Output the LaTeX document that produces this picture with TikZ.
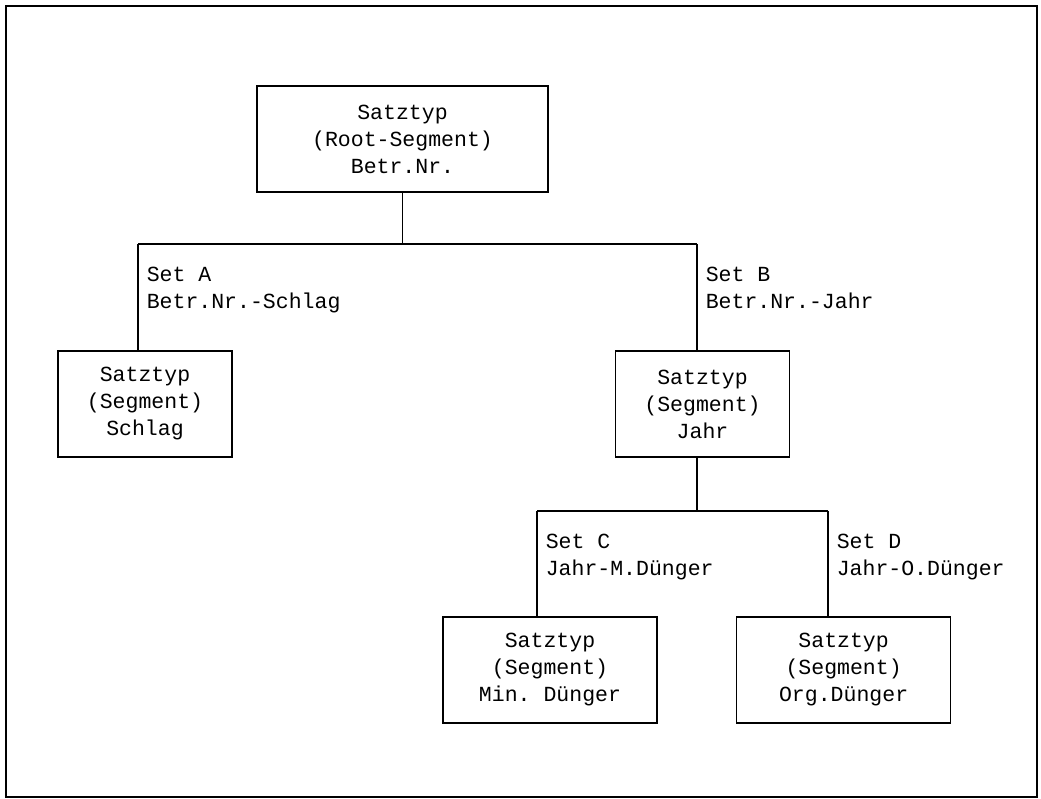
\documentclass[tikz,border=0pt]{standalone}
\usepackage{fontspec}
\setmonofont{Liberation Mono}
\usetikzlibrary{positioning}
\tikzset{
  satzbox/.style={rectangle,draw=black,line width=1.1pt,align=center,minimum height=2.65cm,inner sep=0pt},
  rootbox/.style={satzbox,minimum width=7.275cm},
  segbox/.style={satzbox,minimum width=4.35cm},
  widebox/.style={satzbox,minimum width=5.35cm},
  setlabel/.style={anchor=north west,align=left,inner sep=0pt,xshift=0.2cm,yshift=-0.55cm},
  edge/.style={line width=1.1pt}
}
\begin{document}
\begin{tikzpicture}[x=0.025cm,y=-0.025cm,font=\ttfamily\fontsize{15.3pt}{19.2pt}\selectfont]
  \useasboundingbox (0,0) rectangle (1041,799);
  \draw[line width=1.2pt] (6,6) rectangle (1037,797);

  \node[rootbox] (root) at (402.5,139) {Satztyp\\(Root-Segment)\\Betr.Nr.};
  \node[segbox] (schlag) at (145,404) {Satztyp\\(Segment)\\Schlag};
  \node[segbox] (jahr) at (702.5,404) {Satztyp\\(Segment)\\Jahr};
  \node[widebox] (mindung) at (550,670) {Satztyp\\(Segment)\\Min. Dünger};
  \node[widebox,right=1.95cm of mindung] (orgdung) {Satztyp\\(Segment)\\Org.Dünger};

  % Verzweigungspunkte
  \coordinate (setA) at (138,244);
  \coordinate (setB) at (697,244);
  \coordinate (setC) at (537,511);
  \coordinate (setD) at (828,511);

  \draw[edge] (root.south) -- (root.south |- setA);
  \draw[edge] (setA) -- (setB);
  \draw[edge] (setA) -- (setA |- schlag.north) node[setlabel,at start]{Set A\\Betr.Nr.-Schlag};
  \draw[edge] (setB) -- (setB |- jahr.north) node[setlabel,at start]{Set B\\Betr.Nr.-Jahr};

  \draw[edge] (setB |- jahr.south) -- (setB |- setC);
  \draw[edge] (setC) -- (setD);
  \draw[edge] (setC) -- (setC |- mindung.north) node[setlabel,at start]{Set C\\Jahr-M.Dünger};
  \draw[edge] (setD) -- (setD |- orgdung.north) node[setlabel,at start]{Set D\\Jahr-O.Dünger};
\end{tikzpicture}
\end{document}
